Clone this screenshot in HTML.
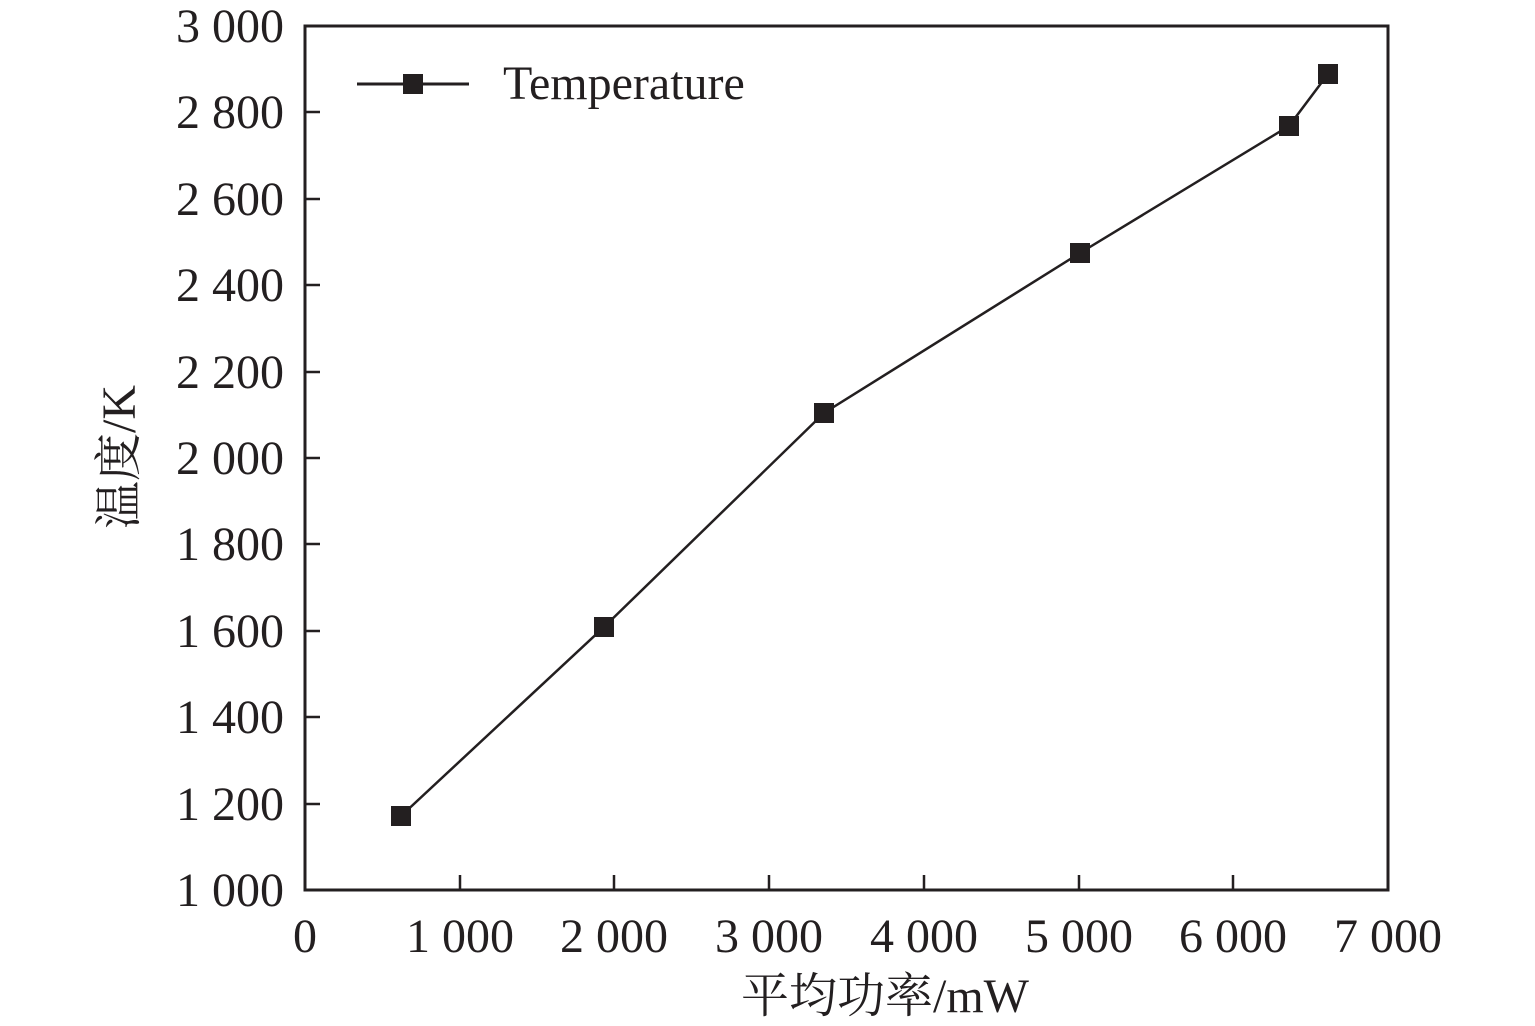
<!DOCTYPE html>
<html><head><meta charset="utf-8"><style>body{margin:0;background:#fff}</style></head><body>
<svg width="1535" height="1026" xmlns="http://www.w3.org/2000/svg" style="display:block">
<g font-family="Liberation Serif, Noto Serif CJK SC, serif" font-size="48" fill="#231f20">
<g text-anchor="end">
<text x="284" y="42">3 000</text><text x="284" y="128">2 800</text><text x="284" y="215">2 600</text>
<text x="284" y="301">2 400</text><text x="284" y="388">2 200</text><text x="284" y="474">2 000</text>
<text x="284" y="560">1 800</text><text x="284" y="647">1 600</text><text x="284" y="733">1 400</text>
<text x="284" y="820">1 200</text><text x="284" y="906">1 000</text>
</g>
<g text-anchor="middle">
<text x="305" y="952">0</text><text x="460" y="952">1 000</text><text x="614" y="952">2 000</text>
<text x="769" y="952">3 000</text><text x="924" y="952">4 000</text><text x="1079" y="952">5 000</text>
<text x="1233" y="952">6 000</text><text x="1388" y="952">7 000</text>
<text x="885" y="1012">平均功率/mW</text>
</g>
<text transform="translate(135,457) rotate(-90)" text-anchor="middle">温度/K</text>
<text x="503" y="99">Temperature</text>
</g>
<g stroke="#231f20" fill="none">
<rect x="305" y="26" width="1083" height="864" stroke-width="3"/>
<path stroke-width="2.5" d="M305 112h15M305 199h15M305 285h15M305 372h15M305 458h15M305 544h15M305 631h15M305 717h15M305 804h15M460 890v-15M614 890v-15M769 890v-15M924 890v-15M1079 890v-15M1233 890v-15"/>
<polyline stroke-width="2.5" points="401,816 604,627 824,413 1080,253 1289,126 1328,74"/>
<path stroke-width="3" d="M357 84h112"/>
</g>
<g fill="#231f20">
<rect x="391" y="806" width="20" height="20"/><rect x="594" y="617" width="20" height="20"/>
<rect x="814" y="403" width="20" height="20"/><rect x="1070" y="243" width="20" height="20"/>
<rect x="1279" y="116" width="20" height="20"/><rect x="1318" y="64" width="20" height="20"/>
<rect x="403" y="74" width="20" height="20"/>
</g>
</svg>
</body></html>
